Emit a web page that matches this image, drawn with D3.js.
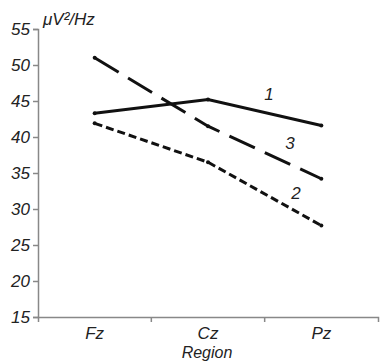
<!DOCTYPE html>
<html>
<head>
<meta charset="utf-8">
<script src="https://cdn.jsdelivr.net/npm/d3@7"></script>
<style>
  body { margin: 0; background: #fff; }
  text { font-family: "Liberation Sans", Arial, sans-serif; font-style: italic; }
</style>
</head>
<body>
<div id="chart"></div>
<script>
// data
const regions = ["Fz", "Cz", "Pz"];
const series1 = [43.3, 45.2, 41.6];
const series2 = [41.9, 36.5, 27.7];
const series3 = [51.0, 41.5, 34.2];
const yTicks = [15, 20, 25, 30, 35, 40, 45, 50, 55];

const width = 380, height = 362;
const margin = { top: 29, right: 2, bottom: 45, left: 38 };

const svg = d3.select("#chart").append("svg")
  .attr("width", width)
  .attr("height", height);

const x = d3.scaleBand().domain(regions).range([margin.left, width - margin.right]);
const y = d3.scaleLinear().domain([15, 55]).range([height - margin.bottom, margin.top]);

// y axis
const gy = svg.append("g")
  .attr("transform", "translate(" + margin.left + ",0)")
  .call(d3.axisLeft(y).tickValues(yTicks).tickSize(5).tickPadding(3));
gy.selectAll("text").attr("font-size", 17).attr("fill", "#222").attr("font-family", null);

// x axis, ticks at the band edges
const gx = svg.append("g")
  .attr("transform", "translate(0," + (height - margin.bottom) + ")")
  .call(d3.axisBottom(x).tickSizeInner(0).tickSizeOuter(5).tickPadding(10));
gx.selectAll("text").attr("font-size", 17).attr("fill", "#222").attr("font-family", null);
gx.selectAll(".edge")
  .data(regions.slice(1))
  .enter().append("line")
  .attr("x1", d => x(d)).attr("x2", d => x(d))
  .attr("y1", 0).attr("y2", 5)
  .attr("stroke", "#888");

svg.selectAll(".domain, .tick line").attr("stroke", "#888").attr("stroke-width", 1.5);
gx.selectAll("line").attr("stroke-width", 1.5);

svg.append("text")
  .attr("x", 43).attr("y", 25)
  .attr("font-size", 17).attr("fill", "#222")
  .text("μV²/Hz");

svg.append("text")
  .attr("x", 207).attr("y", 358)
  .attr("text-anchor", "middle")
  .attr("font-size", 16).attr("fill", "#222")
  .text("Region");

const line = d3.line()
  .x((d, i) => x(regions[i]) + x.bandwidth() / 2)
  .y(d => y(d));

const lines = [
  { values: series1, dash: null },
  { values: series2, dash: "8,4" },
  { values: series3, dash: "28,11" }
];

lines.forEach(s => {
  svg.append("path")
    .datum(s.values)
    .attr("fill", "none")
    .attr("stroke", "#111")
    .attr("stroke-width", 3)
    .attr("stroke-dasharray", s.dash)
    .attr("d", line);
  svg.selectAll(null)
    .data(s.values)
    .enter().append("circle")
    .attr("cx", (d, i) => x(regions[i]) + x.bandwidth() / 2)
    .attr("cy", d => y(d))
    .attr("r", 2)
    .attr("fill", "#111");
});

// series labels
svg.append("text").attr("x", 269).attr("y", 100).attr("text-anchor", "middle")
  .attr("font-size", 17).attr("fill", "#222").text("1");
svg.append("text").attr("x", 296).attr("y", 199).attr("text-anchor", "middle")
  .attr("font-size", 17).attr("fill", "#222").text("2");
svg.append("text").attr("x", 290).attr("y", 149).attr("text-anchor", "middle")
  .attr("font-size", 17).attr("fill", "#222").text("3");
</script>
</body>
</html>
